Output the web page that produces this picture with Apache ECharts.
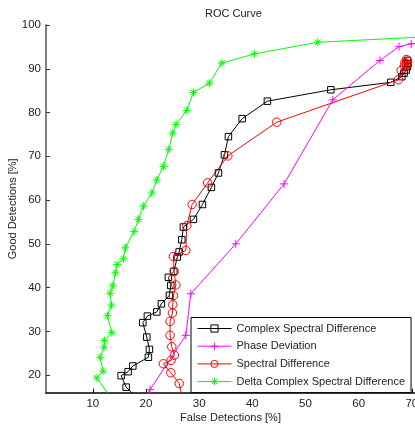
<!DOCTYPE html>
<html>
<head>
<meta charset="utf-8">
<script src="https://cdn.jsdelivr.net/npm/echarts@6/dist/echarts.min.js"></script>
<style>html,body{margin:0;padding:0;background:#fff}#c{width:415px;height:425px}</style>
</head>
<body>
<div id="c"></div>
<script>
const seriesNames = ['Complex Spectral Difference', 'Phase Deviation', 'Spectral Difference', 'Delta Complex Spectral Difference'];
const xTicks = [10, 20, 30, 40, 50, 60, 70];
const yTicks = [20, 30, 40, 50, 60, 70, 80, 90, 100];

const csdX = [19.0, 16.27, 15.33, 16.64, 17.53, 20.46, 20.65, 20.16, 19.41, 20.27, 22.04, 22.9, 24.41, 24.67, 24.22, 25.24, 25.9, 26.24, 26.74, 27.04, 28.93, 30.62, 32.31, 33.63, 34.76, 35.51, 38.09, 42.84, 54.77, 66.05, 68.12, 68.55, 68.93, 69.18, 69.3, 69.2];
const csdY = [14.0, 17.27, 19.9, 20.8, 22.1, 24.1, 25.9, 28.7, 32.0, 33.5, 34.45, 36.3, 38.25, 40.5, 42.35, 43.7, 47.0, 48.15, 50.96, 53.85, 55.6, 59.0, 62.9, 66.2, 70.35, 74.5, 78.6, 82.6, 85.2, 86.9, 88.2, 89.0, 89.7, 90.5, 91.2, 91.9];

const pdX = [19.3, 20.78, 27.5, 28.43, 36.9, 45.98, 55.14, 64.0, 67.6, 69.9, 100];
const pdY = [14.0, 16.7, 29.1, 38.6, 50.0, 63.7, 82.9, 91.9, 95.05, 95.7, 100];

const sdX = [27.0, 26.26, 24.68, 23.28, 24.73, 25.35, 24.86, 24.54, 24.54, 24.98, 25.05, 25.17, 25.62, 25.3, 25.17, 27.5, 27.68, 28.68, 31.6, 35.4, 44.6, 67.5, 68.0, 68.6, 69.0, 69.2, 69.0, 68.7, 69.1];
const sdY = [14.0, 18.1, 20.55, 22.6, 23.4, 24.57, 26.5, 29.1, 32.3, 34.2, 36.1, 38.2, 40.6, 43.7, 47.1, 48.5, 54.15, 59.0, 63.95, 70.1, 77.8, 87.5, 89.6, 90.6, 91.2, 91.7, 92.1, 91.4, 90.8];

const dcsdX = [13.9, 10.76, 11.94, 11.38, 12.13, 12.19, 13.58, 12.75, 13.5, 13.26, 13.77, 14.26, 14.58, 15.76, 16.14, 17.77, 18.58, 19.52, 21.1, 22.04, 23.28, 24.3, 25.05, 25.67, 27.68, 28.93, 31.94, 34.27, 40.4, 52.3, 100];
const dcsdY = [14.0, 19.4, 20.9, 24.1, 26.4, 27.9, 29.7, 33.6, 36.0, 38.7, 40.4, 43.4, 45.3, 46.6, 49.1, 52.8, 55.6, 58.6, 61.6, 64.6, 67.7, 71.6, 75.3, 77.3, 80.5, 84.6, 86.7, 91.3, 93.4, 96.05, 99.0];

function zip(xs, ys) { return xs.map((x, i) => [x, ys[i]]); }

const FONT = "'Liberation Sans', Arial, Helvetica, sans-serif";
const TXT = '#222';
const plusPath = 'path://M0,5L10,5M5,0L5,10';
const starPath = 'path://M0,5L10,5M5,0L5,10M1.5,1.5L8.5,8.5M8.5,1.5L1.5,8.5';

function mk(name, data, color, symbol, size) {
  return {
    name: name, type: 'line', data: data, symbol: symbol, symbolSize: size,
    showAllSymbol: true, clip: true, animation: false,
    lineStyle: { color: color, width: 1 },
    itemStyle: { color: 'rgba(255,255,255,0)', borderColor: color, borderWidth: 1 },
    emphasis: { disabled: true }
  };
}

const chart = echarts.init(document.getElementById('c'), null, { renderer: 'canvas' });
chart.setOption({
  backgroundColor: '#fff',
  animation: false,
  textStyle: { fontFamily: FONT },
  title: {
    text: 'ROC Curve', left: 200, top: 3,
    textStyle: { fontSize: 11, fontWeight: 'normal', color: TXT, fontFamily: FONT }
  },
  grid: { left: 46, right: 0, top: 25, bottom: 32.3, containLabel: false, outerBoundsMode: 'none' },
  xAxis: {
    type: 'value', min: 1.2, max: 70.6,
    name: 'False Detections [%]', nameLocation: 'middle', nameGap: 20, nameMoveOverlap: false,
    nameTextStyle: { fontSize: 11, color: TXT, fontFamily: FONT },
    axisLine: { show: true, lineStyle: { color: '#000', width: 1.5 } },
    axisTick: { show: true, inside: true, length: 4, customValues: xTicks, lineStyle: { color: '#000' } },
    axisLabel: { customValues: xTicks, fontSize: 11.5, color: TXT, margin: 5, fontFamily: FONT },
    splitLine: { show: false }
  },
  yAxis: {
    type: 'value', min: 16, max: 100,
    name: 'Good Detections [%]', nameLocation: 'middle', nameGap: 28, nameRotate: 90, nameMoveOverlap: false,
    nameTextStyle: { fontSize: 11, color: TXT, fontFamily: FONT },
    axisLine: { show: true, lineStyle: { color: '#808080', width: 2 } },
    axisTick: { show: true, inside: true, length: 4, customValues: yTicks, lineStyle: { color: '#333' } },
    axisLabel: { customValues: yTicks, fontSize: 11.5, color: TXT, margin: 5, fontFamily: FONT },
    splitLine: { show: false }
  },
  legend: {
    orient: 'vertical', left: 191, top: 317.5,
    padding: [5.5, 6, 5.5, 6], itemGap: 6.7, itemWidth: 34, itemHeight: 9,
    backgroundColor: '#fff', borderColor: '#000', borderWidth: 1, borderRadius: 0,
    selectedMode: false,
    itemStyle: { borderWidth: 1 },
    lineStyle: { width: 1 },
    textStyle: { fontSize: 11, color: TXT, fontFamily: FONT },
    data: seriesNames
  },
  series: [
    mk(seriesNames[0], zip(csdX, csdY), '#000000', 'rect', 6.5),
    mk(seriesNames[1], zip(pdX, pdY), '#ff00ff', plusPath, 8),
    mk(seriesNames[2], zip(sdX, sdY), '#ff0000', 'circle', 8.5),
    mk(seriesNames[3], zip(dcsdX, dcsdY), '#00ff00', starPath, 8)
  ]
});
</script>
</body>
</html>
